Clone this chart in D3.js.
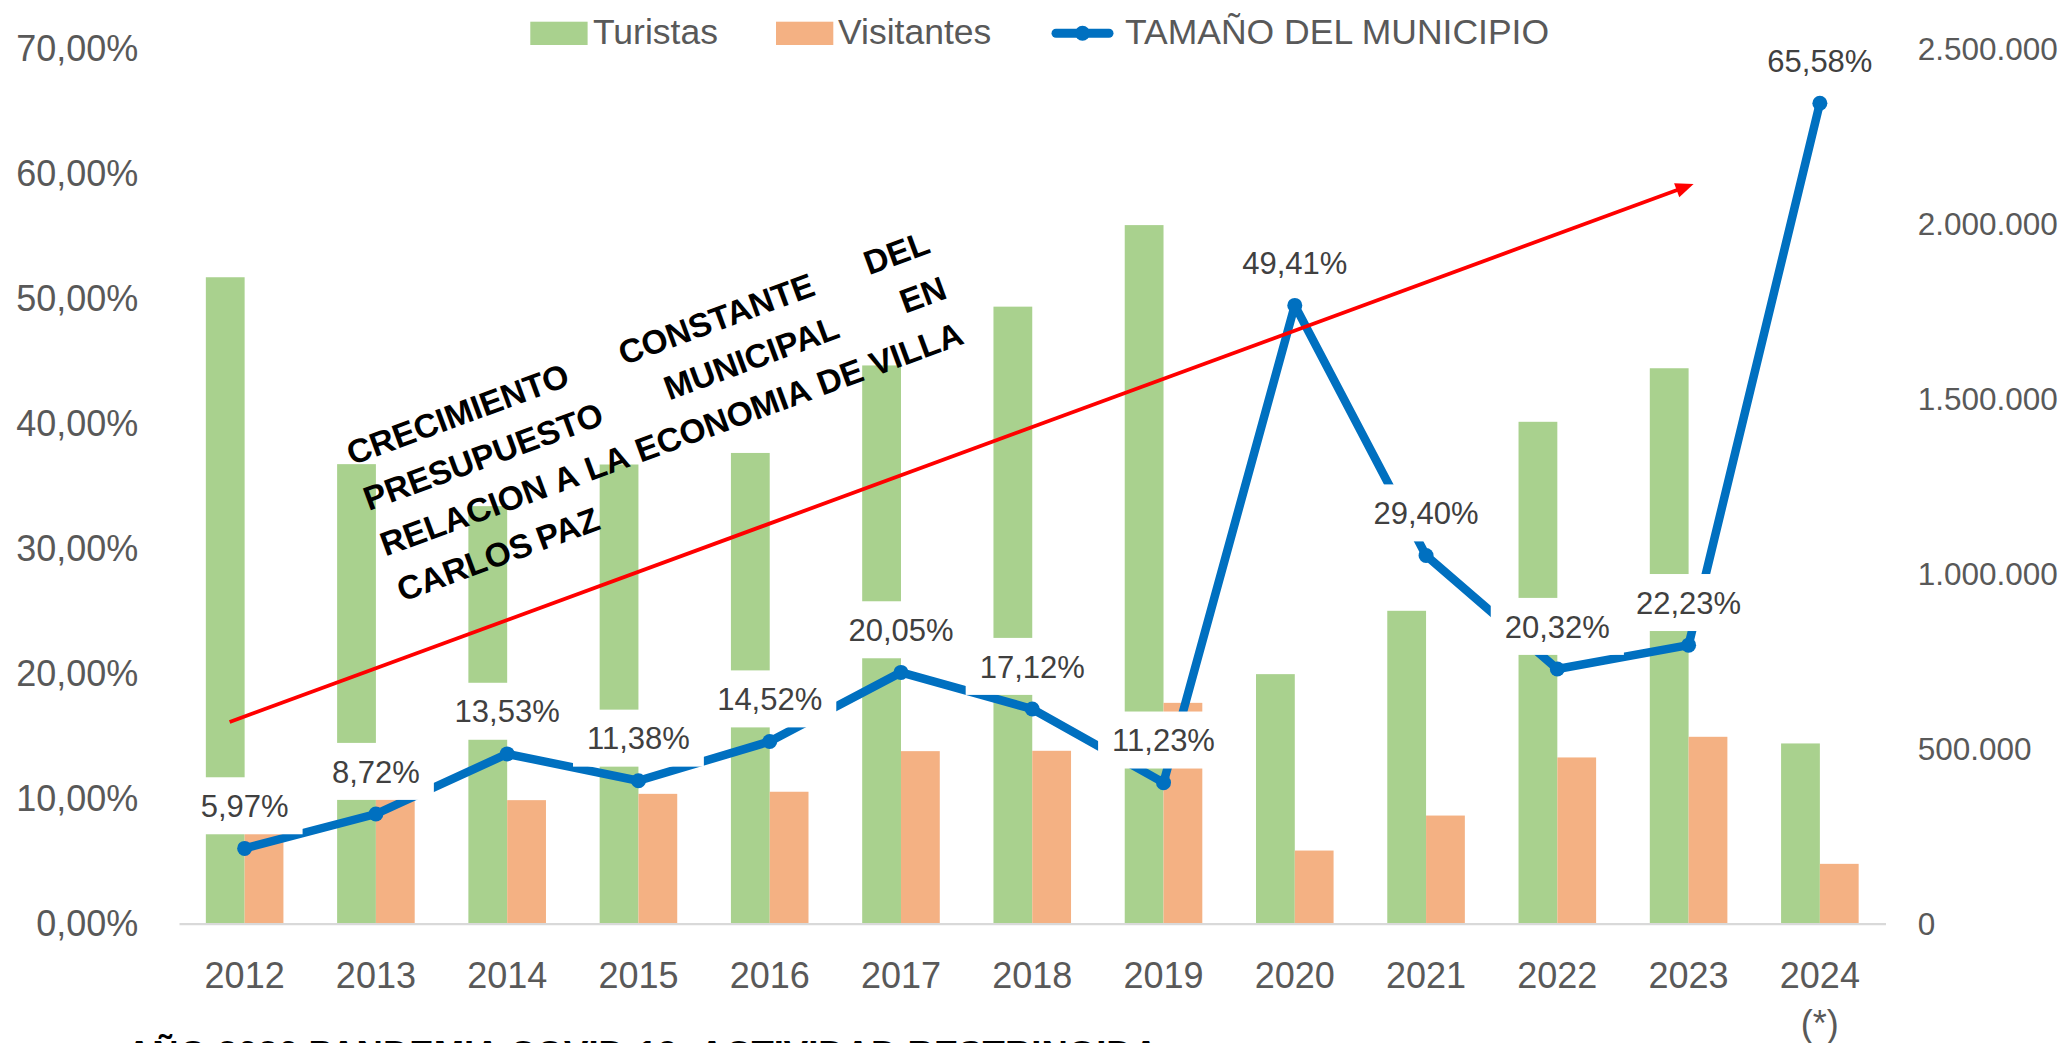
<!DOCTYPE html>
<html>
<head>
<meta charset="utf-8">
<script src="https://cdn.jsdelivr.net/npm/d3@7"></script>
<style>
html,body{margin:0;padding:0;background:#ffffff;}
svg{display:block;}
</style>
</head>
<body>
<svg id="chart" width="2065" height="1043"></svg>
<script>
// ---------------- DATA ----------------
const years = ["2012","2013","2014","2015","2016","2017","2018","2019","2020","2021","2022","2023","2024"];
const turistas = [1845000,1311000,1191000,1310000,1343000,1593000,1761000,1994000,711000,892000,1432000,1585000,513000];
const visitantes = [280000,370000,351000,369000,375000,491000,492000,629000,207000,307000,473000,532000,169000];
const tamano = [0.0597,0.0872,0.1353,0.1138,0.1452,0.2005,0.1712,0.1123,0.4941,0.2940,0.2032,0.2223,0.6558];
const leftTicks = [0,0.1,0.2,0.3,0.4,0.5,0.6,0.7];
const rightTicks = [0,500000,1000000,1500000,2000000,2500000];
const legendLabels = ["Turistas","Visitantes","TAMAÑO DEL MUNICIPIO"];
const yearNote = "(*)";
const annotationLines = ["CRECIMIENTO CONSTANTE DEL","PRESUPUESTO MUNICIPAL EN","RELACION A LA ECONOMIA DE VILLA","CARLOS PAZ"];
const footnote = "AÑO 2020 PANDEMIA COVID-19: ACTIVIDAD RESTRINGIDA";
// trend arrow anchors, in data space (category, left-axis value)
const arrowFrom = {year:"2012", value:0.1608};
const arrowTo = {year:"2023", value:0.5912};

// ---------------- STYLE ----------------
const FONT = "'Liberation Sans', Arial, sans-serif";
const C_GREEN = "#A9D18E", C_ORANGE = "#F4B183", C_BLUE = "#0070C0", C_RED = "#FF0000";
const C_AXIS_TXT = "#595959", C_LABEL = "#404040";

const loc = d3.formatLocale({decimal:",", thousands:".", grouping:[3], currency:["",""]});
const pct = loc.format(".2%");
const num = loc.format(",.0f");

const svg = d3.select("#chart");

const x = d3.scaleBand().domain(years).range([179, 1885.5]).paddingInner(0).paddingOuter(0);
const yL = d3.scaleLinear().domain([0, 0.7]).range([923, 48]);
const yR = d3.scaleLinear().domain([0, 2500000]).range([923, 48]);
const barW = x.bandwidth() * 0.2955;
const cx = d => x(d) + x.bandwidth() / 2;

// ---------------- BARS ----------------
const gBars = svg.append("g");
gBars.selectAll("rect.t").data(years).join("rect")
  .attr("class","t")
  .attr("x", d => cx(d) - barW)
  .attr("width", barW)
  .attr("y", (d,i) => yR(turistas[i]))
  .attr("height", (d,i) => yR(0) - yR(turistas[i]))
  .attr("fill", C_GREEN);
gBars.selectAll("rect.v").data(years).join("rect")
  .attr("class","v")
  .attr("x", d => cx(d))
  .attr("width", barW)
  .attr("y", (d,i) => yR(visitantes[i]))
  .attr("height", (d,i) => yR(0) - yR(visitantes[i]))
  .attr("fill", C_ORANGE);

// ---------------- AXES ----------------
const axL = svg.append("g").attr("transform","translate(179,0)")
  .call(d3.axisLeft(yL).tickValues(leftTicks).tickFormat(pct).tickSize(0).tickPadding(40.7));
axL.select(".domain").remove();
axL.selectAll("text").attr("font-family", FONT).attr("font-size", 36).attr("fill", C_AXIS_TXT).attr("dy","0.355em");

const axR = svg.append("g").attr("transform","translate(1885.5,0)")
  .call(d3.axisRight(yR).tickValues(rightTicks).tickFormat(num).tickSize(0).tickPadding(32.2));
axR.select(".domain").remove();
axR.selectAll("text").attr("font-family", FONT).attr("font-size", 31.5).attr("fill", C_AXIS_TXT).attr("dy","0.355em");

const axB = svg.append("g").attr("transform","translate(0,923.5)")
  .call(d3.axisBottom(x).tickSize(0).tickSizeOuter(0).tickPadding(39.2));
axB.select(".domain").attr("stroke","#D9D9D9").attr("stroke-width",2.25);
axB.selectAll("text").attr("font-family", FONT).attr("font-size", 36).attr("fill", C_AXIS_TXT);
axB.selectAll(".tick text").filter(d => d === years[years.length-1]).each(function(d){
  const t = d3.select(this);
  t.text(null);
  t.append("tspan").attr("x",0).text(d);
  t.append("tspan").attr("x",0).attr("dy",47.7).text(yearNote);
});

// ---------------- LINE ----------------
const pts = years.map((d,i) => [cx(d), yL(tamano[i])]);
svg.append("path")
  .attr("d", d3.line()(pts))
  .attr("fill","none").attr("stroke", C_BLUE).attr("stroke-width", 8.5)
  .attr("stroke-linejoin","round").attr("stroke-linecap","round");
svg.append("g").selectAll("circle").data(pts).join("circle")
  .attr("cx", d => d[0]).attr("cy", d => d[1]).attr("r", 7.5).attr("fill", C_BLUE);

// ---------------- DATA LABELS (white boxes) ----------------
const gLab = svg.append("g");
years.forEach((d,i) => {
  const g = gLab.append("g");
  const cy = yL(tamano[i]) - 42.6;
  const rect = g.append("rect").attr("fill","#ffffff");
  const t = g.append("text")
    .attr("x", cx(d)).attr("y", cy).attr("dy","0.36em")
    .attr("text-anchor","middle")
    .attr("font-family", FONT).attr("font-size", 31).attr("fill", C_LABEL)
    .text(pct(tamano[i]));
  const w = t.node().getComputedTextLength() + 28;
  rect.attr("x", cx(d) - w/2).attr("y", cy - 28.5).attr("width", w).attr("height", 57);
});

// ---------------- TREND ARROW ----------------
const ax1 = cx(arrowFrom.year) - 15, ay1 = yL(arrowFrom.value);
const ax2 = cx(arrowTo.year) + 5, ay2 = yL(arrowTo.value);
const ang = Math.atan2(ay2 - ay1, ax2 - ax1);
const headL = 18, headW = 7.5;
const bx = ax2 - headL*Math.cos(ang), by = ay2 - headL*Math.sin(ang);
svg.append("line")
  .attr("x1", ax1).attr("y1", ay1).attr("x2", bx + 2*Math.cos(ang)).attr("y2", by + 2*Math.sin(ang))
  .attr("stroke", C_RED).attr("stroke-width", 3.8);
svg.append("path")
  .attr("d", `M${ax2},${ay2}L${bx - headW*Math.sin(ang)},${by + headW*Math.cos(ang)}L${bx + headW*Math.sin(ang)},${by - headW*Math.cos(ang)}Z`)
  .attr("fill", C_RED);

// ---------------- LEGEND ----------------
const lg = svg.append("g").attr("font-family", FONT).attr("font-size", 35.5).attr("fill", C_AXIS_TXT);
lg.append("rect").attr("x",530.3).attr("y",21.7).attr("width",57.3).attr("height",23.3).attr("fill",C_GREEN);
lg.append("text").attr("x",593).attr("y",43.5).text(legendLabels[0]);
lg.append("rect").attr("x",776).attr("y",21.7).attr("width",57.3).attr("height",23.3).attr("fill",C_ORANGE);
lg.append("text").attr("x",838).attr("y",43.5).text(legendLabels[1]);
lg.append("line").attr("x1",1056).attr("x2",1109).attr("y1",33.3).attr("y2",33.3)
  .attr("stroke",C_BLUE).attr("stroke-width",9).attr("stroke-linecap","round");
lg.append("circle").attr("cx",1082.5).attr("cy",33.3).attr("r",7.5).attr("fill",C_BLUE);
lg.append("text").attr("x",1125).attr("y",43.5).text(legendLabels[2]);

// ---------------- ROTATED ANNOTATION ----------------
const ann = svg.append("g").attr("transform","translate(352,465.5) rotate(-20.2)")
  .attr("font-family", FONT).attr("font-size", 33.5).attr("font-weight","bold").attr("fill","#000000");
const lineW = 618, lineH = 48.5;
const spaceProbe = ann.append("text").text("A A");
const spaceProbe2 = ann.append("text").text("AA");
const spaceW = spaceProbe.node().getComputedTextLength() - spaceProbe2.node().getComputedTextLength();
spaceProbe.remove(); spaceProbe2.remove();
annotationLines.forEach((line, li) => {
  const words = line.split(" ");
  const y = li * lineH;
  const nodes = words.map(w => ann.append("text").attr("y", y).text(w));
  const widths = nodes.map(n => n.node().getComputedTextLength());
  const total = d3.sum(widths);
  const justify = li < annotationLines.length - 1 && words.length > 1;
  const gap = justify ? (lineW - total) / (words.length - 1) : spaceW;
  let xx = 0;
  nodes.forEach((n, k) => { n.attr("x", xx); xx += widths[k] + gap; });
});

// ---------------- FOOTNOTE (cut off at bottom) ----------------
svg.append("text").attr("x",126).attr("y",1067)
  .attr("font-family", FONT).attr("font-size", 36).attr("font-weight","bold").attr("fill","#000000")
  .attr("textLength", 1033).attr("lengthAdjust","spacingAndGlyphs")
  .text(footnote);
</script>
</body>
</html>
